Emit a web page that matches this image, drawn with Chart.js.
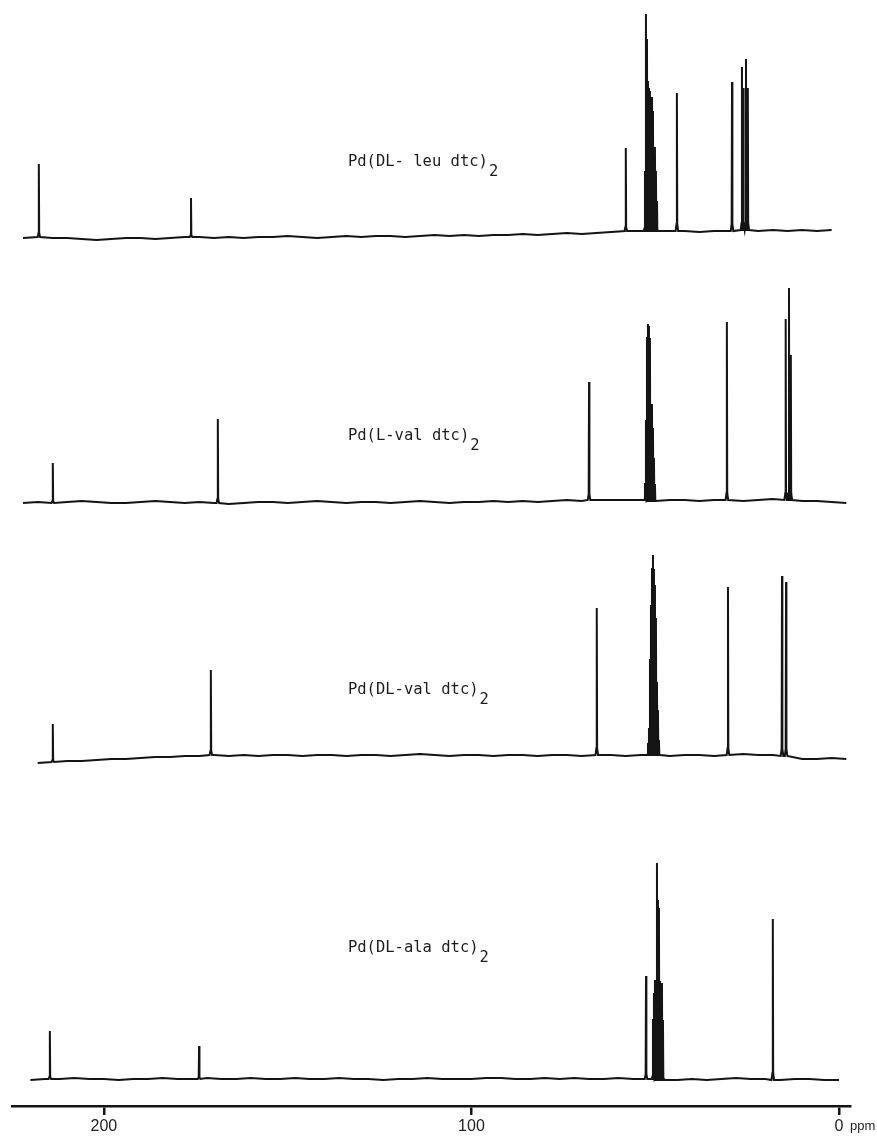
<!DOCTYPE html>
<html>
<head>
<meta charset="utf-8">
<script src="https://cdn.jsdelivr.net/npm/chart.js@4.4.1/dist/chart.umd.min.js"></script>
<style>
  html, body { margin: 0; padding: 0; background: #fff; overflow: hidden; }
  #wrap { width: 877px; height: 1136px; position: relative; }
</style>
</head>
<body>
<div id="wrap"><canvas id="nmr"></canvas></div>
<script>
// spectrum names (subscript 2 added when drawn)
const names = ['Pd(DL- leu dtc)', 'Pd(L-val dtc)', 'Pd(DL-val dtc)', 'Pd(DL-ala dtc)'];
const tickValues = [0, 100, 200];

// peaks: chemical shift (ppm) and height above local baseline
const leuPpm = [217.7, 176.3, 58.0, 52.79, 52.52, 52.24, 51.97, 51.70, 51.43, 51.16, 50.88, 50.61, 50.34, 50.07, 49.80, 49.52, 44.1, 29.1, 26.4, 26.0, 25.3, 24.8];
const leuHeight = [73, 39, 83, 60, 217, 192, 150, 143, 140, 134, 134, 120, 84, 84, 60, 30, 138, 149, 163, 142, 171, 142];

const lvalPpm = [213.9, 169.0, 68.0, 52.79, 52.52, 52.24, 51.97, 51.70, 51.43, 51.16, 50.88, 50.61, 50.34, 50.07, 30.5, 14.5, 13.6, 13.1];
const lvalHeight = [40, 84, 118, 17, 80, 163, 177, 175, 163, 97, 97, 73, 43, 17, 178, 181, 212, 145];

const dvalPpm = [213.9, 170.9, 65.9, 51.97, 51.70, 51.43, 51.16, 50.88, 50.61, 50.34, 50.07, 49.80, 49.52, 49.25, 48.98, 30.2, 15.5, 14.4];
const dvalHeight = [38, 85, 147, 12, 27, 96, 150, 187, 200, 186, 170, 137, 73, 45, 15, 168, 180, 174];

const alaPpm = [214.7, 174.1, 52.5, 50.61, 50.34, 50.07, 49.80, 49.52, 49.25, 48.98, 48.71, 48.44, 48.16, 47.89, 18.0];
const alaHeight = [48, 33, 103, 60, 86, 99, 99, 217, 180, 172, 99, 97, 97, 60, 161];

// baseline drift, read every 4 ppm from the first shift given
const leuBaseFrom = 222;
const leuBase = [-4, -3, -4, -4, -5, -6, -5, -4, -4, -5,
  -4, -3, -3, -4, -3, -4, -3, -3, -2, -3,
  -4, -3, -2, -3, -2, -2, -3, -2, -1, -2,
  -1, -2, -1, -1, 0, -1, 0, 1, 0, 1,
  2, 3, 3, 3, 3, 3, 2, 3, 3, 4,
  3, 4, 3, 4, 3, 4];

const lvalBaseFrom = 222;
const lvalBase = [-1, 0, -1, 0, 1, 0, -1, -1, 0, 1,
  0, -1, 0, -1, -2, -1, 0, 0, -1, 0,
  1, 0, -1, 0, 0, -1, 0, 1, 0, -1,
  0, 0, 1, 0, 1, 0, 1, 2, 1, 2,
  2, 2, 2, 1, 2, 2, 1, 2, 2, 1,
  2, 3, 2, 1, 1, 0, -1];

const dvalBaseFrom = 218;
const dvalBase = [-6, -5, -4, -4, -3, -2, -2, -1, 0, 0,
  1, 1, 2, 1, 2, 1, 2, 2, 1, 2,
  2, 1, 2, 2, 1, 2, 3, 2, 1, 2,
  2, 1, 2, 2, 1, 2, 2, 1, 2, 2,
  1, 2, 2, 1, 2, 2, 1, 2, 3, 2,
  2, 1, -2, -2, -1, -2];

const alaBaseFrom = 220;
const alaBase = [-1, 0, 0, 1, 0, 0, -1, 0, 0, 1,
  0, 0, 1, 0, 0, 1, 0, 0, 1, 0,
  0, 1, 0, 0, -1, 0, 0, 1, 0, 0,
  0, 1, 1, 0, 0, 1, 0, 1, 0, 0,
  1, 0, 0, -1, -1, 0, -1, 0, 1, 0,
  0, -1, 0, 0, -1, -1];

// stacking: level of each baseline above the ppm axis, label height above baseline
const baseLevels = [872, 604, 349, 27];
const labelRise = [72, 66, 67, 131];
const labelPpm = 133.6;
const GRID_STEP = 4;

function buildSpectrum(level, baseFrom, base, ppm, height) {
  const groups = base.map((b, i) => ({key: baseFrom - i * GRID_STEP, pts: [[baseFrom - i * GRID_STEP, level + b]]}));
  ppm.forEach((p, i) => {
    const k = Math.min(base.length - 1, Math.max(0, Math.round((baseFrom - p) / GRID_STEP)));
    const foot = level + base[k];
    const h = height[i];
    const hump = Math.min(7, h * 0.05);
    groups.push({key: p, pts: [
      [p + 0.35, foot], [p + 0.1, foot + hump], [p, foot + h], [p - 0.1, foot + hump], [p - 0.35, foot]
    ]});
  });
  groups.sort((a, b) => b.key - a.key);
  const out = [];
  groups.forEach(g => g.pts.forEach(([x, y]) => out.push({x, y})));
  return out;
}

const spectra = [
  buildSpectrum(baseLevels[0], leuBaseFrom, leuBase, leuPpm, leuHeight),
  buildSpectrum(baseLevels[1], lvalBaseFrom, lvalBase, lvalPpm, lvalHeight),
  buildSpectrum(baseLevels[2], dvalBaseFrom, dvalBase, dvalPpm, dvalHeight),
  buildSpectrum(baseLevels[3], alaBaseFrom, alaBase, alaPpm, alaHeight)
];

const labelPlugin = {
  id: 'spectrumLabels',
  afterDatasetsDraw(chart) {
    const {ctx, scales: {x, y}} = chart;
    ctx.save();
    ctx.fillStyle = '#1c1c1c';
    ctx.textBaseline = 'middle';
    ctx.textAlign = 'left';
    ctx.font = '15.5px "DejaVu Sans Mono"';
    names.forEach((name, i) => {
      const px = x.getPixelForValue(labelPpm);
      const py = y.getPixelForValue(baseLevels[i] + labelRise[i]);
      ctx.fillText(name, px, py);
      const w = ctx.measureText(name).width;
      ctx.fillText('2', px + w + 1, py + 10);
    });
    ctx.font = '13px "Liberation Sans"';
    ctx.fillText('ppm', x.getPixelForValue(0) + 11, x.bottom - 10);
    ctx.restore();
  }
};

new Chart(document.getElementById('nmr').getContext('2d'), {
  type: 'line',
  data: {
    datasets: spectra.map((pts, i) => ({
      label: names[i],
      data: pts,
      borderColor: '#141414',
      borderWidth: 2,
      pointRadius: 0,
      tension: 0,
      fill: false
    }))
  },
  options: {
    responsive: true,
    maintainAspectRatio: false,
    animation: false,
    parsing: false,
    layout: {padding: {left: 12, right: 27, top: 0, bottom: 0}},
    plugins: {legend: {display: false}, tooltip: {enabled: false}},
    scales: {
      x: {
        type: 'linear',
        reverse: true,
        min: -3,
        max: 225,
        afterBuildTicks: s => { s.ticks = tickValues.map(v => ({value: v})); },
        afterFit: s => { s.height = 30; },
        border: {color: '#141414', width: 2.5},
        grid: {drawOnChartArea: false, color: '#141414', lineWidth: 2.5, tickLength: 9},
        ticks: {
          color: '#222',
          font: {family: 'Liberation Sans', size: 16},
          padding: 2,
          maxRotation: 0,
          autoSkip: false
        }
      },
      y: {
        display: false,
        min: 0,
        max: 1106
      }
    }
  },
  plugins: [labelPlugin]
});
</script>
</body>
</html>
